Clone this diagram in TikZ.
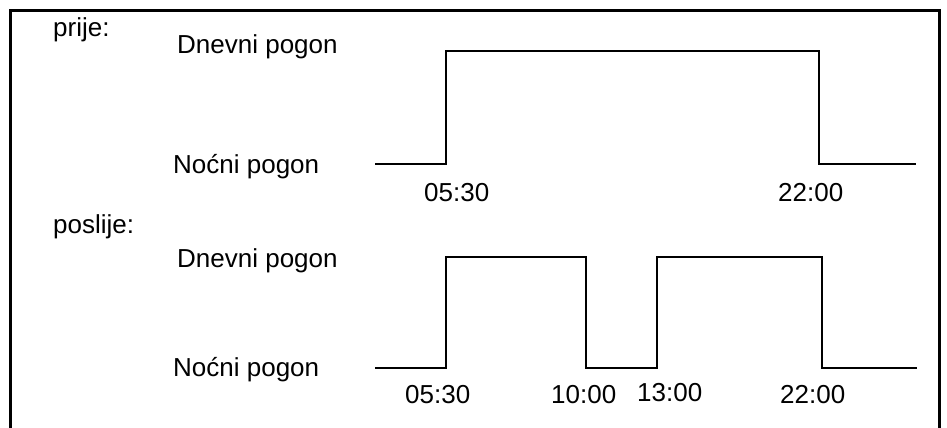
\documentclass[tikz,border=0pt]{standalone}
\usepackage{fontspec}
\setmainfont{Liberation Sans}
\begin{document}
\begin{tikzpicture}[x=1pt,y=-1pt,
  lbl/.style={anchor=base west,inner sep=0pt,font=\fontsize{26}{30}\selectfont},
  wave/.style={line width=2.4pt,line join=miter}]
\useasboundingbox (0,0) rectangle (947,428);
\clip (0,0) rectangle (947,428);
\draw[line width=3pt] (10,440) -- (10,11) -- (939,11) -- (939,440);
% labels
\node[lbl] (p1) at (53,37) {prije:};
\node[lbl] (d1) at (177,54) {Dnevni pogon};
\node[lbl] (n1) at (173,173) {Noćni pogon};
\node[lbl] (t1a) at (424,201) {05:30};
\node[lbl] (t1b) at (778,201) {22:00};
\node[lbl] (p2) at (53,233) {poslije:};
\node[lbl] (d2) at (177,267) {Dnevni pogon};
\node[lbl] (n2) at (173,376) {Noćni pogon};
\node[lbl] (t2a) at (405,403) {05:30};
\node[lbl] (t2b) at (551,403) {10:00};
\node[lbl] (t2c) at (637,401) {13:00};
\node[lbl] (t2d) at (780,403) {22:00};
% top waveform
\coordinate (a0) at (375,164);
\coordinate (a1) at (446,164);
\coordinate (a2) at (446,51);
\coordinate (a3) at (819,51);
\coordinate (a4) at (819,164);
\coordinate (a5) at (916,164);
\draw[wave] (a0) -- (a1) -- (a2) -- (a3) -- (a4) -- (a5);
% bottom waveform
\coordinate (b0) at (375,368);
\coordinate (b1) at (446,368);
\coordinate (b2) at (446,257);
\coordinate (b3) at (586,257);
\coordinate (b4) at (586,368);
\coordinate (b5) at (657,368);
\coordinate (b6) at (657,257);
\coordinate (b7) at (822,257);
\coordinate (b8) at (822,368);
\coordinate (b9) at (917,368);
\draw[wave] (b0) -- (b1) -- (b2) -- (b3) -- (b4) -- (b5) -- (b6) -- (b7) -- (b8) -- (b9);
\end{tikzpicture}
\end{document}
